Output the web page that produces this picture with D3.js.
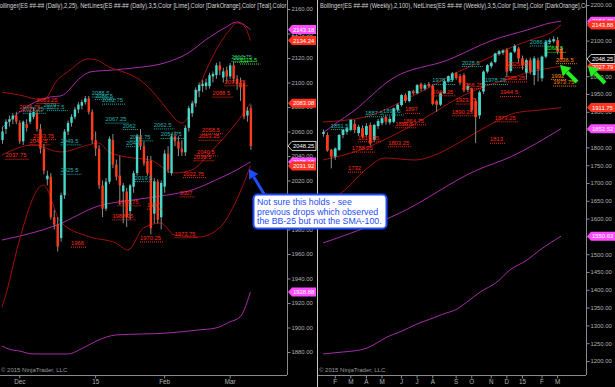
<!DOCTYPE html>
<html>
<head>
<meta charset="utf-8">
<script src="https://cdn.jsdelivr.net/npm/d3@7"></script>
<style>
  body { margin: 0; background: #000; }
  svg { display: block; }
  text { font-family: "Liberation Sans", Arial, sans-serif; }
</style>
</head>
<body>
<div id="chart"></div>
<script>
// ES daily (left) and weekly (right) candles: [open, high, low, close]
const dailyOHLC = [
  [2053,2064,2050,2060],[2062,2070,2058,2068],[2068,2073,2064,2070],[2070,2075,2066,2073],[2073,2076,2066,2068],
  [2067,2069,2050,2052],[2052,2069,2049,2068],[2066,2070,2060,2063],[2068,2078,2066,2075],[2072,2079,2070,2076],
  [2075,2078,2060,2062],[2062,2066,2042,2046],[2046,2050,2025,2028],[2021,2028,2016,2024],[2023,2026,1988,1990],
  [1990,1996,1980,1984],[1984,1990,1962,1966],[1973,2010,1970,2008],[2008,2062,2005,2060],[2060,2069,2057,2067],
  [2067,2074,2064,2072],[2072,2080,2070,2078],[2078,2084,2075,2082],[2081,2086,2078,2084],[2084,2089,2082,2087],
  [2087,2089,2074,2076],[2076,2078,2050,2053],[2053,2060,2040,2046],[2046,2049,2013,2016],[2016,2020,1990,1997],
  [1997,2022,1995,2019],[2019,2056,2017,2054],[2053,2058,2030,2033],[2033,2037,2020,2023],[2024,2040,2000,2016],
  [2011,2018,1985,2016],[2011,2014,1982,1990],[1995,2017,1988,2016],[2015,2028,2010,2026],[2026,2058,2024,2056],
  [2056,2062,2045,2048],[2048,2052,2032,2034],[2036,2040,2024,2026],[2036,2040,1976,1981],[1993,2022,1985,2019],
  [2019,2021,1985,1988],[1990,2020,1980,2018],[2015,2045,2010,2042],[2042,2048,2026,2029],[2026,2058,2024,2056],
  [2056,2060,2048,2052],[2052,2056,2040,2046],[2046,2053,2040,2043],[2043,2065,2040,2063],[2063,2081,2060,2079],
  [2075,2085,2072,2083],[2083,2096,2080,2094],[2093,2100,2088,2098],[2097,2102,2092,2099],[2097,2103,2094,2100],
  [2097,2108,2095,2106],[2105,2109,2100,2107],[2106,2116,2103,2114],[2114,2117,2106,2110],[2104,2112,2100,2109],
  [2110,2113,2100,2105],[2105,2116,2103,2114],[2114,2117,2100,2103],[2103,2106,2094,2099],[2100,2104,2085,2096],
  [2099,2101,2070,2072],[2073,2080,2068,2077],[2079,2082,2045,2048.25]
];

const weeklyOHLC = [
  [1838,1850,1830,1843],[1835,1842,1788,1791],[1793,1796,1741,1774],[1774,1800,1765,1797],[1793,1838,1790,1835],
  [1835,1852,1826,1849],[1844,1858,1836,1854],[1849,1880,1845,1877],[1866,1878,1840,1849],[1840,1864,1832,1858],
  [1854,1862,1826,1830],[1835,1868,1830,1860],[1863,1870,1806,1811],[1821,1866,1815,1863],[1860,1880,1852,1874],
  [1868,1886,1862,1882],[1885,1890,1864,1872],[1870,1888,1864,1880],[1872,1912,1868,1910],[1906,1924,1900,1920],
  [1919,1950,1915,1947],[1947,1952,1925,1931],[1930,1960,1926,1958],[1958,1962,1948,1952],[1952,1978,1950,1975],
  [1978,1982,1958,1965],[1965,1980,1960,1975],[1978,1984,1968,1972],[1973,1976,1918,1922],[1930,1934,1900,1920],
  [1920,1956,1916,1952],[1952,1990,1950,1986],[1986,2002,1982,2000],[1989,2012,1985,2008],[2008,2012,1990,1995],
  [2000,2006,1975,1982],[2003,2008,1955,1960],[1962,1980,1955,1972],[1965,1968,1898,1905],[1930,1935,1812,1885],
  [1890,1960,1880,1955],[1957,2016,1950,2013],[2013,2034,2008,2031],[2028,2042,2022,2038],[2040,2066,2036,2064],
  [2062,2074,2058,2070],[2066,2076,2060,2072],[2074,2079,1998,2013],[2015,2068,2010,2066],[2069,2090,2065,2085],
  [2078,2083,2040,2050],[2050,2058,2018,2030],[2010,2050,1990,2045],[2045,2052,2005,2013],[2003,2056,1975,2050],
  [2045,2052,1985,2020],[1994,2058,1985,2055],[2055,2100,2050,2097],[2096,2106,2090,2100],[2098,2112,2094,2104],
  [2101,2110,2062,2069],[2078,2082,2046,2048.25]
];

// indicator lines, [bar index, price]
const dailyBBUpper = [[0,2092.2],[5,2089.8],[12,2085.7],[16,2102],[19,2108.6],[25,2119.2],[27.5,2118.4],[31,2112.7],[36,2107.8],[40,2102],[45,2088.2],[48,2077.6],[52,2066.9],[54,2071.8],[56.5,2091.4],[61,2120.8],[66,2142.9],[68,2148.6],[70,2146.9],[72,2134.24]];
const dailyBBMid = [[0,2040.8],[9,2049],[17,2043.3],[25,2049],[28,2050.6],[31,2043.3],[36,2039.2],[43,2036.7],[50,2026.1],[55,2028.6],[61,2044.9],[67,2063.7],[72,2083.08]];
const dailyBBLower = [[0,1916.7],[1.5,1930.6],[4.3,1963.3],[12,2016.3],[17,1986.1],[25.5,1973.9],[33,1969],[36.5,1963.3],[41,1981.2],[46,1985.3],[50,1975.5],[57,1973.9],[63,1981.2],[68,2004.1],[72,2031.92]];
const dailySMAUpper = [[0,2062.9],[8,2081.6],[14,2088.2],[17,2089],[23,2104.5],[25.5,2108.6],[32,2110.2],[38,2111.8],[48,2116.7],[54,2124.1],[59,2134.7],[65,2145.3],[68,2149.4],[72,2143.18]];
const dailySMA100 = [[0,1971.4],[16,1983.7],[28,1999.2],[38,2004.1],[48,2008.2],[55,2012.2],[62,2020.4],[68,2028.6],[72,2035.19]];
const dailySMALower = [[0,1884.9],[2,1882.4],[5,1880.8],[9,1878.4],[19,1878.4],[23.5,1883.3],[28,1889.8],[33,1893.9],[48,1895.5],[57,1898],[62,1899.6],[66,1904.5],[69,1908.6],[72,1928.88]];

const weeklyBBUpper = [[0,1871.3],[10.8,1885.4],[21,1933.1],[27.4,1969.7],[34.6,2011.8],[40.3,2039.9],[46.7,2073.6],[53.1,2101.7],[58.2,2121.3],[61,2143.88]];
const weeklyBBMid = [[0,1764.6],[9.5,1792.7],[19.7,1843.3],[27.4,1891],[33.8,1933.1],[40.3,1966.9],[46.7,1989.3],[53.1,2011.8],[61,2027.79]];
const weeklyBBLower = [[0,1638.2],[5.6,1680.3],[10.8,1736.5],[15.9,1770.2],[23.6,1764.6],[28.7,1778.7],[33.8,1806.7],[39,1840.4],[44.1,1871.3],[49.2,1896.6],[55.6,1905],[61,1911.75]];
const weeklySMAUpper = [[0,1840.4],[3.8,1871.3],[7.2,1896.6],[18,1994.9],[32,2045.5],[43.6,2101.7],[52.3,2129.8],[58.2,2149.4],[61,2154.49]];
const weeklySMA100 = [[0,1531.5],[19.7,1615.7],[39.5,1736.5],[48,1773],[61,1852.52]];
const weeklySMALower = [[0,1219.7],[5.1,1225.3],[7.7,1228.1],[11.3,1236.5],[13.8,1250.6],[16.4,1267.4],[19.7,1281.5],[24.1,1303.9],[28.2,1320.8],[30.8,1332],[34.4,1346.1],[36.9,1365.7],[40.3,1393.8],[44.6,1421.9],[47.9,1455.6],[52.3,1483.7],[55.6,1511.8],[61,1550.63]];

// NetLines price labels: [bar index, price, colour key]
const dailyLabels = [
  [6,2075.25,'t'],[12,2079,'t'],[13,2077.5,'t'],[26,2088.5,'t'],[27,2086.5,'t'],[29,2082.75,'t'],[30,2067.25,'t'],
  [35,2062,'t'],[44,2062.5,'t'],[46,2054.75,'t'],[17,2049.5,'t'],[17,2025.5,'t'],[37,2052.75,'t'],[36,2048,'t'],
  [38.5,2019.5,'t'],[66.5,2117.75,'t'],[69,2115.5,'g'],[67,2117,'g'],
  [10,2083.25,'r'],[5,2076.75,'r'],[9,2053.75,'r'],[8,2049.5,'r'],[1,2037.75,'r'],[58,2058.5,'r'],[57,2053.25,'r'],
  [56.5,2040.5,'r'],[55.5,2036.5,'r'],[52.5,2022.75,'r'],[51.5,2007,'r'],[33.5,1999.75,'r'],[42,1997,'r'],
  [32,1988.25,'r'],[40,1970.25,'r'],[50,1973.75,'r'],[20,1966,'r'],[61,2088.5,'r'],[64.5,2097.75,'r']
];
const weeklyLabels = [
  [2,1851.5,'t'],[10.8,1887.5,'t'],[15.4,1892.5,'t'],[28,1978.25,'t'],[35.6,2028.5,'t'],[41.5,1978.25,'t'],[53,2086.25,'t'],
  [57,2068.5,'g'],
  [9,1817.25,'r'],[7.4,1788.25,'r'],[16.7,1803.25,'r'],[6.4,1732,'r'],[21,1897,'r'],[20.5,1864.75,'r'],[18.5,1856.5,'r'],
  [28,1946.25,'r'],[34,1923.25,'r'],[33,1890.25,'r'],[45.4,1944.5,'r'],[35.6,1966.25,'r'],[46.4,1985.25,'r'],
  [47.2,2025.25,'r'],[44,1873.25,'r'],[42.8,1813,'r'],
  [59.7,2036.5,'o'],[58.5,1992,'o'],[59,1973.75,'o']
];

const dailyYTicks = [2160,2140,2120,2100,2080,2060,2040,2020,2000,1980,1960,1940,1920,1900,1880];
const weeklyYTicks = [2200,2150,2100,2050,2000,1950,1900,1850,1800,1750,1700,1650,1600,1550,1500,1450,1400,1350,1300,1250,1200];
const dailyXTicks = [5, 27, 47, 66];
const dailyXLabels = ['Dec', '15', 'Feb', 'Mar'];
const weeklyXTicks = [3, 7, 11, 15, 20, 24, 28, 34, 38, 43, 47, 51, 56, 60];
const weeklyXLabels = ['F', 'M', 'A', 'M', 'J', 'J', 'A', 'S', 'O', 'N', 'D', '15', 'F', 'M'];

const noteLines = ['Not sure this holds - see', 'previous drops which observed', 'the BB-25 but not the SMA-100.'];

const COL = {
  up: '#46d8c9', down: '#ff3b1c', wick: '#8c8c8c',
  band: '#a3100c', sma: '#a92ca9',
  t: '#22b2ae', r: '#ff2a12', o: '#ff8c00', g: '#33ee33',
  axis: '#8a8a8a', tick: '#b2b2b2',
  tagBand: '#ff3420', tagSma: '#ff4cff'
};

const W = 615, H = 387;
const svg = d3.select('#chart').append('svg')
  .attr('width', W).attr('height', H)
  .style('background', '#000');

function drawPanel(p) {
  const x = d3.scaleLinear().domain(p.xDomain).range(p.xRange);
  const y = d3.scaleLinear().domain(p.yDomain).range(p.yRange);
  const bottom = 375;

  svg.append('clipPath').attr('id', 'clip-' + p.id)
    .append('rect').attr('x', p.left).attr('y', 0)
    .attr('width', p.axisX - p.left).attr('height', bottom);
  const plot = svg.append('g').attr('clip-path', `url(#clip-${p.id})`);

  // title, squeezed a bit like the platform's narrow font
  const title = plot.append('text')
    .attr('x', p.left + p.titleDx).attr('y', 8)
    .attr('font-size', 7).attr('fill', '#d6d6d6')
    .text(p.title);
  title.attr('textLength', title.node().getComputedTextLength() * 0.82)
    .attr('lengthAdjust', 'spacingAndGlyphs');

  // bands
  const line = d3.line().x(d => x(d[0])).y(d => y(d[1])).curve(d3.curveMonotoneX);
  p.lines.forEach(l => {
    plot.append('path')
      .attr('d', line(l.pts))
      .attr('fill', 'none')
      .attr('stroke', l.kind === 'sma' ? COL.sma : COL.band)
      .attr('stroke-width', 1);
  });

  // candles
  const c = plot.selectAll('g.candle').data(p.ohlc).enter().append('g').attr('class', 'candle');
  c.append('line')
    .attr('x1', (d, i) => x(i) + 0.5).attr('x2', (d, i) => x(i) + 0.5)
    .attr('y1', d => y(d[1])).attr('y2', d => y(d[2]))
    .attr('stroke', COL.wick).attr('stroke-width', 1);
  c.append('rect')
    .attr('x', (d, i) => x(i) - p.bodyW / 2 + 0.5)
    .attr('y', d => y(Math.max(d[0], d[3])))
    .attr('width', p.bodyW)
    .attr('height', d => Math.max(1, Math.abs(y(d[0]) - y(d[3]))))
    .attr('fill', d => d[3] >= d[0] ? COL.up : COL.down);

  // price labels with dotted underline
  p.labels.forEach(l => {
    const lx = x(l[0]), ly = y(l[1]);
    const t = plot.append('text')
      .attr('x', lx).attr('y', ly - 1.5)
      .attr('font-size', 5.8).attr('fill', COL[l[2]])
      .text(String(l[1]));
    const w = t.node().getComputedTextLength();
    plot.append('line')
      .attr('x1', lx).attr('x2', lx + w + 3)
      .attr('y1', ly + 0.5).attr('y2', ly + 0.5)
      .attr('stroke', COL[l[2]]).attr('stroke-width', 1)
      .attr('stroke-dasharray', '1,1');
  });

  // copyright
  plot.append('text')
    .attr('x', p.left + 1).attr('y', 372)
    .attr('font-size', 6).attr('fill', '#9c9c9c')
    .text('\u00A9 2015 NinjaTrader, LLC');

  // axes
  svg.append('line')
    .attr('x1', p.axisX + 0.5).attr('x2', p.axisX + 0.5)
    .attr('y1', 0).attr('y2', bottom)
    .attr('stroke', COL.axis);
  svg.append('line')
    .attr('x1', p.left).attr('x2', p.axisX)
    .attr('y1', bottom + 0.5).attr('y2', bottom + 0.5)
    .attr('stroke', COL.axis);

  const ya = svg.append('g')
    .attr('transform', `translate(${p.axisX + 0.5},0)`)
    .call(d3.axisRight(y).tickValues(p.yTicks).tickFormat(d3.format('.2f')).tickSize(3).tickPadding(1));
  ya.select('.domain').remove();
  ya.selectAll('line').attr('stroke', COL.axis);
  ya.selectAll('text').attr('fill', COL.tick).attr('font-size', 5.9)
    .attr('font-family', '"Liberation Sans", Arial, sans-serif');

  const xa = svg.append('g')
    .attr('transform', `translate(0,${bottom + 0.5})`)
    .call(d3.axisBottom(x).tickValues(p.xTicks).tickFormat((d, i) => p.xLabels[i]).tickSize(3).tickPadding(1));
  xa.select('.domain').remove();
  xa.selectAll('line').attr('stroke', COL.axis);
  xa.selectAll('text').attr('fill', COL.tick).attr('font-size', 6.3)
    .attr('font-family', '"Liberation Sans", Arial, sans-serif');

  // value tags on the price axis
  const tags = p.lines.map(l => ({
    v: l.pts[l.pts.length - 1][1],
    fill: l.kind === 'sma' ? COL.tagSma : COL.tagBand,
    stroke: 'none'
  }));
  tags.push({ v: p.ohlc[p.ohlc.length - 1][3], fill: '#000', stroke: '#fff' });
  tags.forEach(tg => {
    const ty = y(tg.v), ax = p.axisX + 1;
    svg.append('path')
      .attr('d', `M${ax},${ty} L${ax + 4},${ty - 4.5} L${ax + 28},${ty - 4.5} L${ax + 28},${ty + 4.5} L${ax + 4},${ty + 4.5} Z`)
      .attr('fill', tg.fill).attr('stroke', tg.stroke).attr('stroke-width', 0.8);
    svg.append('text')
      .attr('x', ax + 5).attr('y', ty + 2.2)
      .attr('font-size', 5.9).attr('fill', '#fff')
      .text(d3.format('.2f')(tg.v));
  });
}

drawPanel({
  id: 'daily', left: 0, axisX: 287, titleDx: -4,
  xDomain: [0, 72], xRange: [2, 250.4],
  yDomain: [2160, 1880], yRange: [9, 352],
  bodyW: 2.4,
  ohlc: dailyOHLC,
  lines: [
    { kind: 'sma', pts: dailySMAUpper }, { kind: 'band', pts: dailyBBUpper },
    { kind: 'band', pts: dailyBBMid }, { kind: 'sma', pts: dailySMA100 },
    { kind: 'band', pts: dailyBBLower }, { kind: 'sma', pts: dailySMALower }
  ],
  labels: dailyLabels,
  yTicks: dailyYTicks, xTicks: dailyXTicks, xLabels: dailyXLabels,
  title: 'Bollinger(ES ##-## (Daily),2,25), NetLines(ES ##-## (Daily),3,5,Color [Lime],Color [DarkOrange],Color [Teal],Color [Red])'
});

drawPanel({
  id: 'weekly', left: 318, axisX: 586, titleDx: 2,
  xDomain: [0, 61], xRange: [323, 561],
  yDomain: [2200, 1200], yRange: [5, 361],
  bodyW: 2.8,
  ohlc: weeklyOHLC,
  lines: [
    { kind: 'sma', pts: weeklySMAUpper }, { kind: 'band', pts: weeklyBBUpper },
    { kind: 'band', pts: weeklyBBMid }, { kind: 'band', pts: weeklyBBLower },
    { kind: 'sma', pts: weeklySMA100 }, { kind: 'sma', pts: weeklySMALower }
  ],
  labels: weeklyLabels,
  yTicks: weeklyYTicks, xTicks: weeklyXTicks, xLabels: weeklyXLabels,
  title: 'Bollinger(ES ##-## (Weekly),2,100), NetLines(ES ##-## (Weekly),3,5,Color [Lime],Color [DarkOrange],Color [Teal],Color [Red])'
});

// panel separator
svg.append('line')
  .attr('x1', 317.5).attr('x2', 317.5).attr('y1', 0).attr('y2', H)
  .attr('stroke', '#c8c8c8').attr('stroke-width', 1);

// arrows
function arrow(x1, y1, x2, y2, color, width, head) {
  const dx = x2 - x1, dy = y2 - y1, len = Math.hypot(dx, dy);
  const ux = dx / len, uy = dy / len;
  const bx = x2 - ux * head, by = y2 - uy * head;
  svg.append('line')
    .attr('x1', x1).attr('y1', y1).attr('x2', bx).attr('y2', by)
    .attr('stroke', color).attr('stroke-width', width);
  svg.append('path')
    .attr('d', `M${x2},${y2} L${bx - uy * head * 0.6},${by + ux * head * 0.6} L${bx + uy * head * 0.6},${by - ux * head * 0.6} Z`)
    .attr('fill', color);
}

// callout
arrow(264, 194, 249, 169, '#1f4cff', 3, 9);
const note = svg.append('g');
note.append('rect')
  .attr('x', 253.5).attr('y', 194.5).attr('width', 133).attr('height', 34)
  .attr('rx', 4).attr('fill', '#fff')
  .attr('stroke', '#1f4cff').attr('stroke-width', 2);
note.selectAll('text').data(noteLines).enter().append('text')
  .attr('x', 257).attr('y', (d, i) => 205 + i * 9.6)
  .attr('font-size', 8.8).attr('fill', '#1f4cff')
  .text(d => d);

arrow(577, 82, 560, 65, '#22ee22', 4, 10);
arrow(605, 83, 588, 66, '#22ee22', 4, 10);
</script>
</body>
</html>
